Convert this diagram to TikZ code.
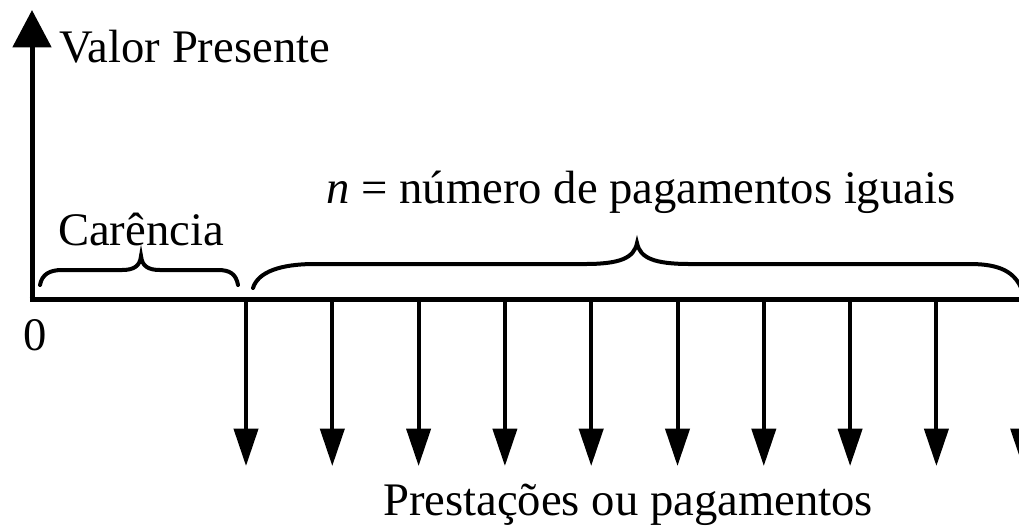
\documentclass[tikz,border=0pt]{standalone}
\usepackage{fontspec}
\setmainfont{Liberation Serif}
\usetikzlibrary{arrows.meta}
\begin{document}
\begin{tikzpicture}[x=0.75pt,y=-0.75pt,
  lbl/.style={inner sep=0pt,font=\fontsize{35}{41}\selectfont},
  axisline/.style={line width=3.75pt},
  payarrow/.style={line width=3pt,-{Triangle[width=18pt,length=28pt]}},
  bracestyle/.style={line width=3pt,line cap=round}]
\useasboundingbox (0,0) rectangle (1019,526);
% axes
\coordinate (origin) at (32,299);
\coordinate (ytop) at (32,10);
\coordinate (xleft) at (29.5,299);
\coordinate (xright) at (1025,299);
\draw[axisline,-{Triangle[width=28.5pt,length=28pt]}] (origin) -- (ytop);
\draw[axisline] (xleft) -- (xright);
% payment arrows
\foreach \i in {0,...,9}{
  \pgfmathsetmacro{\xx}{246+86.3*\i}
  \coordinate (p\i) at (\xx,299);
  \coordinate (q\i) at (\xx,466);
  \draw[payarrow] (p\i) -- (q\i);
}
% labels
\node[lbl,anchor=base west] (vp) at (59,62) {Valor Presente};
\node[lbl,anchor=base] (car) at (141,245) {Carência};
\node[lbl,anchor=base] (n) at (641,203) {\textit{n} = número de pagamentos iguais};
\node[lbl,anchor=base] (zero) at (35,350) {0};
\node[lbl,anchor=base] (prest) at (628,515) {Prestações ou pagamentos};
% Carencia brace
\draw[bracestyle] (40,285) .. controls (42,274) and (50,270) .. (62,270)
  -- (122,270) .. controls (134,270) and (140,266) .. (141,256)
  .. controls (142,266) and (148,270) .. (160,270)
  -- (218,270) .. controls (230,270) and (236,274) .. (238,285);
% big brace
\draw[bracestyle] (253,288) .. controls (258,272) and (280,264) .. (315,264)
  -- (585,264) .. controls (620,264) and (634,258) .. (637,243)
  .. controls (640,258) and (654,264) .. (690,264)
  -- (970,264) .. controls (1000,264) and (1015,272) .. (1022,290);
\end{tikzpicture}
\end{document}
